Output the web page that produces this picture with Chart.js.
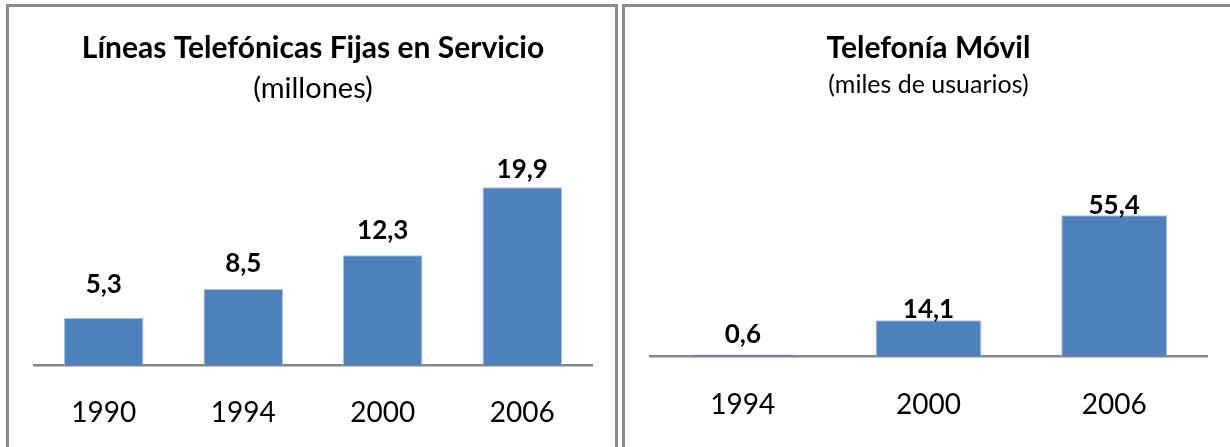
<!DOCTYPE html>
<html>
<head>
<meta charset="utf-8">
<script src="https://cdn.jsdelivr.net/npm/chart.js@4"></script>
<style>
  body { margin: 0; background: #fff; width: 1230px; height: 447px; overflow: hidden; position: relative; }
  .panel { position: absolute; top: 4px; border: 3px solid #8a8a8a; height: 470px; background: #fff; }
  #p1 { left: 6px; width: 606px; }
  #p2 { left: 622px; width: 640px; }
  canvas { display: block; }
</style>
</head>
<body>
<div class="panel" id="p1"><canvas id="fijas" width="606" height="440"></canvas></div>
<div class="panel" id="p2"><canvas id="movil" width="592" height="440"></canvas></div>
<script>
// líneas fijas (millones)
const fijasYears = ['1990', '1994', '2000', '2006'];
const fijasValues = [5.3, 8.5, 12.3, 19.9];
// telefonía móvil (miles de usuarios)
const movilYears = ['1994', '2000', '2006'];
const movilValues = [0.6, 14.1, 55.4];

const FONT = 'Lato, "Open Sans", sans-serif';

// value labels above the bars, with spanish decimal comma
const barLabels = {
    id: 'barLabels',
    afterDatasetsDraw(chart, args, opts) {
        const ctx = chart.ctx;
        const meta = chart.getDatasetMeta(0);
        const data = chart.data.datasets[0].data;
        ctx.save();
        ctx.font = 'bold ' + opts.size + 'px ' + FONT;
        ctx.fillStyle = '#000';
        ctx.textAlign = 'center';
        ctx.textBaseline = 'middle';
        meta.data.forEach((bar, i) => {
            const txt = data[i].toFixed(1).replace('.', ',');
            ctx.fillText(txt, bar.x, bar.y - opts.offsets[i]);
        });
        ctx.restore();
    }
};

const makeChart = (id, labels, values, o) => {
    const ctx = document.querySelector('#' + id).getContext('2d');
    const config = {
        type: 'bar',
        data: {
            labels: labels,
            datasets: [{
                data: values,
                backgroundColor: '#4f81bd',
                borderColor: '#a9c2e2',
                borderWidth: 1,
                borderSkipped: 'bottom',
                barPercentage: 0.57,
                categoryPercentage: 1
            }]
        },
        options: {
            responsive: false,
            animation: false,
            layout: { padding: { left: 25, right: o.right, top: 0, bottom: 0 } },
            plugins: {
                legend: { display: false },
                tooltip: { enabled: false },
                title: {
                    display: true,
                    text: o.title,
                    color: '#000',
                    font: { family: FONT, size: 30, weight: 'bold', lineHeight: 1.2 },
                    padding: { top: 23, bottom: o.titleGap }
                },
                subtitle: {
                    display: true,
                    text: o.subtitle,
                    color: '#000',
                    font: { family: FONT, size: o.subSize, weight: 'normal', lineHeight: 1.2 },
                    padding: { top: 0, bottom: o.subGap }
                },
                barLabels: { size: 26, offsets: o.offsets }
            },
            scales: {
                x: {
                    grid: { display: false, drawTicks: false },
                    border: { display: true, color: '#868686', width: 2.5 },
                    ticks: {
                        color: '#000',
                        padding: o.tickPad,
                        font: { family: FONT, size: 28 }
                    },
                    afterFit: (s) => { s.height = o.axisH; }
                },
                y: {
                    display: false,
                    min: 0,
                    max: o.max
                }
            }
        },
        plugins: [barLabels]
    };
    new Chart(ctx, config);
};

makeChart('fijas', fijasYears, fijasValues, {
    title: 'Líneas Telefónicas Fijas en Servicio',
    subtitle: '(millones)',
    subSize: 29,
    titleGap: 5,
    subGap: 36,
    right: 23,
    axisH: 82,
    tickPad: 31,
    max: 25,
    offsets: [33, 26, 25, 18]
});

makeChart('movil', movilYears, movilValues, {
    title: 'Telefonía Móvil',
    subtitle: '(miles de usuarios)',
    subSize: 25,
    titleGap: 4,
    subGap: 78,
    right: 10,
    axisH: 91,
    tickPad: 32,
    max: 70,
    offsets: [20, 11, 10]
});
</script>
</body>
</html>
